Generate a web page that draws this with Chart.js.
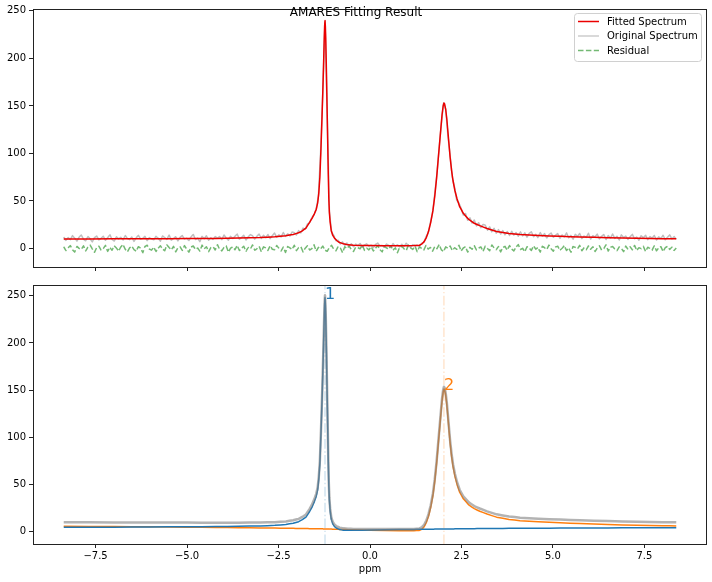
<!DOCTYPE html>
<html><head><meta charset="utf-8">
<script src="https://cdn.jsdelivr.net/npm/chart.js@4.4.1/dist/chart.umd.min.js"></script>
<style>
html,body{margin:0;padding:0;background:#fff;}
#wrap{position:relative;width:712px;height:582px;overflow:hidden;}
canvas{position:absolute;left:0;}
</style></head><body>
<div id="wrap">
<canvas id="topc" width="712" height="280" style="top:0px"></canvas>
<canvas id="botc" width="712" height="302" style="top:280px"></canvas>
</div>
<script>
// ---------------- DATA ----------------
const chartTitle = 'AMARES Fitting Result';
const seriesNames = ['Fitted Spectrum', 'Original Spectrum', 'Residual'];
const xAxisTitle = 'ppm';
const xTickVals = [-7.5, -5, -2.5, 0, 2.5, 5, 7.5];
const xTickLabels = ['\u22127.5', '\u22125.0', '\u22122.5', '0.0', '2.5', '5.0', '7.5'];
const yTickVals = [0, 50, 100, 150, 200, 250];
const yTickLabels = ['0', '50', '100', '150', '200', '250'];

// fitted spectrum / component curves share this ppm grid
const fitX = [-8.37,-7.0,-6.0,-5.0,-4.2,-3.6,-3.0,-2.6,-2.3,-2.1,
  -1.95,-1.85,-1.75,-1.65,-1.58,-1.52,-1.47,-1.43,-1.40,-1.37,
  -1.34,-1.31,-1.29,-1.27,-1.25,-1.24,-1.23,-1.22,-1.21,-1.19,
  -1.17,-1.155,-1.14,-1.125,-1.11,-1.09,-1.06,-1.02,-0.97,-0.91,
  -0.83,-0.73,-0.6,-0.45,0.0,0.8,1.2,1.35,1.42,1.48,
  1.54,1.6,1.66,1.72,1.77,1.82,1.86,1.9,1.94,1.97,
  2.0,2.02,2.04,2.07,2.1,2.14,2.19,2.23,2.27,2.32,
  2.38,2.45,2.55,2.7,2.85,3.0,3.2,3.46,3.8,4.1,
  4.6,5.2,5.74,6.5,7.3,8.0,8.37];
const fitY = [10.0,10.1,10.2,10.4,10.6,10.9,11.5,12.3,13.5,14.8,
  16.5,18.6,21.5,27.5,32,36.5,41,48,58,75,
  105,140,165,192,222,234,240,234,222,185,
  142,110,78,52,38,28,19,14,10.8,8.4,
  6.2,5,3.8,3.3,3.0,2.9,3.0,3.4,4.8,7.2,
  11.5,18,27.5,40,55,74,92,110,128,141,
  150,153,152,146,136,118,96,82,71,61,
  52,44,37,30.5,26.5,24,21,17.8,15.8,14.6,
  13.6,12.8,12.1,11.3,10.7,10.3,10.2];
const comp1Y = [4.3,4.4,4.6,4.8,5.0,5.3,5.7,6.3,7.3,8.6,
  10.2,12.3,15,21,26,31.5,37,44,55,72,
  104,140,168,197,228,241,248,241,228,188,
  142,108,74,48,33,22,13,8,5,3.2,
  1.8,1.2,1.0,1.0,1.3,1.8,2.0,2.1,2.1,2.1,
  2.2,2.2,2.2,2.2,2.3,2.3,2.3,2.3,2.4,2.4,
  2.4,2.4,2.4,2.4,2.4,2.5,2.5,2.5,2.5,2.6,
  2.6,2.6,2.7,2.7,2.8,2.9,2.9,3.0,3.1,3.2,
  3.3,3.4,3.5,3.6,3.7,3.8,3.8];
const comp2Y = [5.3,5.0,4.7,4.4,4.1,3.8,3.6,3.4,3.2,3.1,
  3.0,2.9,2.9,2.8,2.8,2.7,2.7,2.7,2.6,2.6,
  2.6,2.6,2.6,2.5,2.5,2.5,2.5,2.5,2.5,2.5,
  2.4,2.4,2.4,2.4,2.4,2.3,2.3,2.2,2.2,2.1,
  2.0,1.9,1.7,1.5,1.0,0.5,0.5,0.9,2.3,4.8,
  9.3,16,25.5,38,53,72,90,108,126,139,
  148,151,150,144,134,116,93.5,79.5,68.5,58.5,
  49.5,41.5,34.5,28,24,21.3,18.3,15,12.6,11.2,
  10.0,9.0,8.2,7.2,6.4,5.9,5.7];

// original spectrum and residual, sampled every origStep ppm from origStart
const origStart = -8.37;
const origStep = 0.06;
const origY = [
  12.1,8.4,11.6,9.2,13.5,10.8,7.6,11.9,14.2,9.7,
  8.1,12.6,10.3,6.9,11.4,13.1,9.0,10.7,12.9,8.6,
  11.2,14.6,9.5,7.8,12.3,10.1,11.8,8.9,13.7,10.4,
  9.3,12.0,7.4,11.1,13.9,9.8,10.6,12.7,8.2,11.5,
  10.0,9.1,12.8,10.9,7.7,13.2,11.4,9.6,14.1,8.8,
  10.5,12.4,7.9,11.7,13.6,9.9,10.8,8.3,12.2,14.8,
  9.4,11.0,7.2,12.9,10.2,13.4,8.7,11.3,9.5,12.6,
  10.7,12.5,9.3,14.2,11.1,8.6,13.0,10.4,12.8,15.3,
  9.8,11.6,13.9,8.9,12.1,14.6,13.4,9.8,12.9,15.1,
  10.6,13.8,11.2,14.7,10.3,13.5,16.2,11.8,14.4,12.1,
  16.8,12.7,15.5,13.1,17.3,16.8,14.2,18.9,16.3,21.4,
  20.2,25.8,27.0,32.6,35.4,41.5,55.2,101.3,163.8,239.0,
  141.2,39.1,17.2,13.8,8.1,8.6,4.7,6.9,3.2,5.8,
  2.4,4.9,1.8,4.6,2.9,5.3,1.2,3.8,4.9,2.1,
  3.5,0.8,4.2,5.7,2.6,3.1,1.5,4.8,3.3,0.9,
  5.1,2.4,3.9,1.7,4.4,2.2,5.5,3.0,1.1,4.1,
  2.8,3.6,2.1,5.6,6.2,12.3,16.1,27.4,37.2,57.5,
  79.1,106.2,131.0,153.1,146.2,118.7,97.3,74.8,64.5,50.6,
  47.9,42.3,35.1,36.8,29.6,32.4,26.7,29.9,23.8,27.1,
  21.9,25.3,24.6,19.2,22.8,17.4,21.3,16.1,19.9,15.2,
  18.8,14.3,17.9,13.6,18.2,14.1,16.9,12.8,17.5,13.2,
  16.4,11.9,15.8,17.6,12.3,14.9,11.4,16.8,13.0,15.7,
  10.9,14.6,16.3,11.8,13.9,15.6,10.7,14.2,12.1,16.5,
  11.3,13.8,9.7,14.9,12.6,15.8,10.4,13.1,11.7,16.0,
  9.9,13.4,12.2,15.1,10.1,12.8,14.7,9.4,13.6,11.0,
  15.2,10.6,12.9,8.8,14.3,11.5,13.0,9.6,12.4,14.8,
  10.2,11.9,8.7,13.5,11.1,14.0,9.3,12.6,10.8,13.7,
  8.9,12.2,10.5,13.9,9.1,11.8,14.4,10.0,12.5,9.8];
const residY = [
  1.8,-2.3,0.6,3.1,-1.4,-3.8,2.2,0.1,-0.9,2.7,
  -2.6,1.3,3.6,-0.4,-4.1,0.9,2.4,-1.7,-0.2,3.3,
  -3.1,1.1,-1.9,2.8,0.4,-2.7,1.6,4.2,-0.8,-3.5,
  0.7,2.5,-1.2,-2.9,1.9,0.3,-4.4,2.1,3.4,-0.6,
  -1.8,1.4,-3.2,0.2,2.9,-0.5,-2.4,3.8,1.0,-1.5,
  2.3,-3.6,0.8,1.7,-2.0,3.0,-0.7,-4.0,1.5,2.6,
  -1.1,0.5,-2.8,3.5,-0.3,1.8,-3.3,0.9,2.0,-1.6,
  4.0,-0.9,-2.5,1.2,2.7,-3.9,0.4,1.6,-1.3,3.2,
  -2.2,0.0,2.4,-3.0,1.1,-0.6,3.7,-1.9,-0.4,2.2,
  -3.4,1.7,0.6,-2.1,2.9,-0.8,-1.4,3.1,0.2,-2.6,
  1.4,-4.2,2.0,0.7,-1.0,3.4,-2.3,0.9,1.9,-3.7,
  0.3,2.8,-1.6,-0.2,3.9,-2.9,1.2,-0.5,2.5,-1.8,
  -3.0,1.0,3.3,-0.9,-2.4,2.1,0.5,-4.3,1.8,0.1,
  2.6,-1.2,-3.1,1.5,0.8,-0.3,3.6,-2.0,0.4,-1.5,
  1.9,-2.7,0.2,3.0,-1.1,-3.8,2.3,0.6,-0.7,2.8,
  -1.9,0.9,-4.5,1.3,2.2,-0.4,-2.2,3.5,0.7,-1.0,
  2.4,-3.3,1.6,0.0,-1.7,3.2,-0.6,1.1,-2.9,2.0,
  -0.2,4.1,-1.4,-3.2,1.7,0.3,2.6,-2.1,0.8,-0.9,
  3.4,-2.5,0.5,1.9,-4.0,1.2,-0.8,2.9,-1.6,0.4,
  1.6,-3.0,2.5,-0.1,-2.3,3.7,0.6,-1.3,2.1,-3.6,
  0.9,2.2,-1.8,3.1,-0.4,-2.6,1.4,4.3,-1.1,0.2,
  -3.4,1.8,0.5,-2.0,2.7,-0.7,1.0,-3.9,2.3,0.8,
  -1.2,3.5,-0.3,-2.8,1.5,2.4,-1.9,0.1,3.0,-2.2,
  0.6,-4.1,2.0,1.1,-0.5,3.3,-2.4,0.7,-1.3,2.6,
  -0.8,1.9,-3.2,0.4,2.8,-1.7,-0.1,3.8,-2.7,1.2,
  2.1,-0.6,-2.3,1.6,0.3,-3.5,2.5,-0.9,1.7,-1.4,
  3.2,-2.0,0.8,-0.2,2.3,-3.1,1.3,0.0,-1.8,2.9,
  -2.5,0.6,1.9,-3.3,0.9,2.2,-1.0,1.5,-2.1,0.4];

// peak markers (bottom panel)
const peakLabels = ['1', '2'];
const peakPpm = [-1.23, 2.02];
const peakAmp = [248, 151];

// ---------------- STYLE ----------------
const X_MIN = -9.21, X_MAX = 9.21;
const TOP_YMIN = -19.5, TOP_YMAX = 252;
const BOT_YMIN = -13.5, BOT_YMAX = 261.5;
const C_FIT = 'rgb(235,0,0)';
const C_ORIG = 'rgba(128,128,128,0.5)';
const C_RES = 'rgba(0,128,0,0.55)';
const C_SUM = 'rgba(128,128,128,0.6)';
const compColors = ['#1f77b4', '#ff7f0e'];
const compVline = ['rgba(31,119,180,0.2)', 'rgba(255,127,14,0.2)'];

Chart.defaults.font.family = "'DejaVu Sans', sans-serif";
Chart.defaults.font.size = 10;
Chart.defaults.color = '#000';

const pts = (xs, ys) => ys.map((y, i) => ({x: xs[i], y}));
const origX = origY.map((_, i) => origStart + i * origStep);
const sumY = comp1Y.map((v, i) => v + comp2Y[i]);

function zeroPad(s) { s.paddingTop = 0; s.paddingBottom = 0; s.paddingLeft = 0; s.paddingRight = 0; }

function xScale(showLabels, h, withTitle) {
  return {
    type: 'linear', min: X_MIN, max: X_MAX,
    afterBuildTicks: s => { s.ticks = xTickVals.map(v => ({value: v})); },
    afterFit: s => { s.height = h; zeroPad(s); },
    ticks: {display: showLabels, padding: 2, autoSkip: false, maxRotation: 0, color: '#000',
            callback: v => xTickLabels[xTickVals.indexOf(v)]},
    grid: {drawOnChartArea: false, drawTicks: true, tickLength: 4, color: '#222', lineWidth: 1},
    border: {display: false},
    title: {display: withTitle, text: xAxisTitle, color: '#000', font: {size: 10}, padding: {top: 0, bottom: 7}}
  };
}
function yScale(min, max) {
  return {
    type: 'linear', min, max,
    afterBuildTicks: s => { s.ticks = yTickVals.map(v => ({value: v})); },
    afterFit: s => { s.width = 33; zeroPad(s); },
    ticks: {padding: 3, color: '#000', callback: v => yTickLabels[yTickVals.indexOf(v)]},
    grid: {drawOnChartArea: false, drawTicks: true, tickLength: 4, color: '#222', lineWidth: 1},
    border: {display: false}
  };
}

const framePlugin = {
  id: 'frame',
  afterDatasetsDraw(chart) {
    const {ctx, chartArea: a} = chart;
    ctx.save();
    ctx.strokeStyle = '#222';
    ctx.lineWidth = 1;
    ctx.strokeRect(Math.round(a.left) + 0.5, Math.round(a.top) + 0.5,
                   Math.round(a.right - a.left) - 1, Math.round(a.bottom - a.top));
    ctx.restore();
  }
};

const topDecor = {
  id: 'topDecor',
  afterDraw(chart) {
    const ctx = chart.ctx;
    ctx.save();
    ctx.font = "12px 'DejaVu Sans'";
    ctx.fillStyle = '#000';
    ctx.textAlign = 'center';
    ctx.textBaseline = 'alphabetic';
    ctx.fillText(chartTitle, 356, 16);
    const bx = 574.5, by = 13.5, bw = 127, bh = 48, r = 3;
    ctx.beginPath();
    ctx.moveTo(bx + r, by);
    ctx.arcTo(bx + bw, by, bx + bw, by + bh, r);
    ctx.arcTo(bx + bw, by + bh, bx, by + bh, r);
    ctx.arcTo(bx, by + bh, bx, by, r);
    ctx.arcTo(bx, by, bx + bw, by, r);
    ctx.closePath();
    ctx.fillStyle = 'rgba(255,255,255,0.8)';
    ctx.fill();
    ctx.strokeStyle = '#d0d0d0';
    ctx.lineWidth = 1;
    ctx.stroke();
    const styles = [[C_FIT, []], ['rgba(128,128,128,0.4)', []], [C_RES, [5.5, 2.4]]];
    const ys = [21.5, 36, 50.5];
    ctx.font = "10px 'DejaVu Sans'";
    ctx.textAlign = 'left';
    ctx.textBaseline = 'middle';
    seriesNames.forEach((name, i) => {
      ctx.beginPath();
      ctx.setLineDash(styles[i][1]);
      ctx.strokeStyle = styles[i][0];
      ctx.lineWidth = 1.5;
      ctx.moveTo(578, ys[i]);
      ctx.lineTo(599, ys[i]);
      ctx.stroke();
      ctx.setLineDash([]);
      ctx.fillStyle = '#000';
      ctx.fillText(name, 607, ys[i] + 0.5);
    });
    ctx.restore();
  }
};

const peakLabelPlugin = {
  id: 'peakLabels',
  afterDatasetsDraw(chart) {
    const {ctx, scales} = chart;
    ctx.save();
    ctx.font = "16px 'DejaVu Sans'";
    ctx.textAlign = 'left';
    ctx.textBaseline = 'alphabetic';
    peakLabels.forEach((lab, i) => {
      ctx.fillStyle = compColors[i];
      ctx.fillText(lab, scales.x.getPixelForValue(peakPpm[i]), scales.y.getPixelForValue(peakAmp[i]) + 1);
    });
    ctx.restore();
  }
};

// tiny tension avoids Chart.js' pixel-column "fast path" (which distorts sharp peaks)
const lineDs = (label, data, color, width, dash) => ({
  label, data, borderColor: color, borderWidth: width, borderDash: dash || [],
  pointRadius: 0, pointHoverRadius: 0, fill: false, tension: 0.00001,
  borderJoinStyle: 'round', borderCapStyle: 'butt'
});

const common = {
  responsive: false, animation: false, devicePixelRatio: 1, events: [],
  plugins: {legend: {display: false}, tooltip: {enabled: false}, title: {display: false}}
};

new Chart(document.getElementById('topc'), {
  type: 'line',
  data: {datasets: [
    lineDs(seriesNames[0], pts(fitX, fitY), C_FIT, 1.5),
    lineDs(seriesNames[1], pts(origX, origY), C_ORIG, 1.5),
    lineDs(seriesNames[2], pts(origX, residY), C_RES, 1.5, [5.5, 2.4])
  ]},
  options: Object.assign({}, common, {
    layout: {padding: {top: 9, right: 5, bottom: 5, left: 0}},
    scales: {x: xScale(false, 8, false), y: yScale(TOP_YMIN, TOP_YMAX)}
  }),
  plugins: [framePlugin, topDecor]
});

new Chart(document.getElementById('botc'), {
  type: 'line',
  data: {datasets: [
    lineDs('Sum', pts(fitX, sumY), C_SUM, 2.5),
    lineDs('Component 1', pts(fitX, comp1Y), compColors[0], 1.5),
    lineDs('Component 2', pts(fitX, comp2Y), compColors[1], 1.5),
    lineDs('Peak 1 position', [{x: peakPpm[0], y: BOT_YMIN}, {x: peakPpm[0], y: BOT_YMAX}], compVline[0], 1.5, [9.6, 2.4, 1.5, 2.4]),
    lineDs('Peak 2 position', [{x: peakPpm[1], y: BOT_YMIN}, {x: peakPpm[1], y: BOT_YMAX}], compVline[1], 1.5, [9.6, 2.4, 1.5, 2.4])
  ]},
  options: Object.assign({}, common, {
    layout: {padding: {top: 5, right: 5, bottom: 0, left: 0}},
    scales: {x: xScale(true, 38, true), y: yScale(BOT_YMIN, BOT_YMAX)}
  }),
  plugins: [framePlugin, peakLabelPlugin]
});
</script>
</body></html>
